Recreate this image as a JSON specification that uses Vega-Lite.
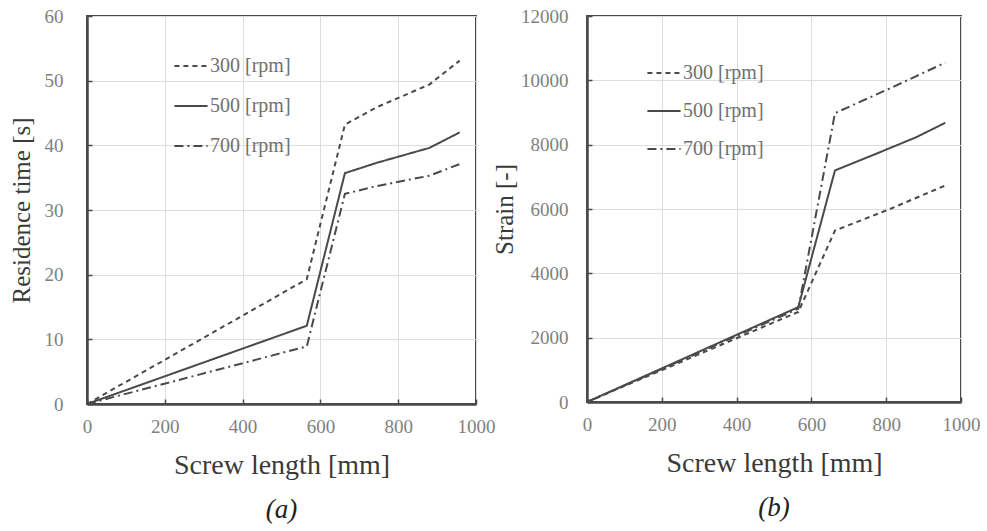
{
  "$schema": "https://vega.github.io/schema/vega-lite/v6.json",
  "background": "white",
  "padding": {"left": 8, "top": 6, "right": 5, "bottom": 2},
  "spacing": -5,
  "config": {
    "font": "Liberation Serif",
    "view": {"stroke": "#4a4a4a", "strokeWidth": 2},
    "axis": {
      "labelFont": "Liberation Serif",
      "labelFontSize": 19,
      "labelColor": "#808080",
      "labelFlush": false,
      "titleFont": "Liberation Serif",
      "titleFontSize": 25,
      "titleFontWeight": "normal",
      "titleColor": "#3a3a3a",
      "gridColor": "#dddddd",
      "gridWidth": 1,
      "domainColor": "#4a4a4a",
      "domainWidth": 2.5,
      "tickColor": "#4a4a4a",
      "tickSize": -5,
      "tickWidth": 1.5,
      "format": "d"
    },
    "axisX": {"titleFontSize": 28},
    "legend": {
      "labelFont": "Liberation Serif",
      "labelFontSize": 20,
      "labelColor": "#707070",
      "symbolType": "stroke",
      "symbolSize": 1100,
      "symbolStrokeWidth": 2,
      "symbolStrokeColor": "#4a4a4a",
      "rowPadding": 12,
      "labelOffset": 1
    },
    "title": {"font": "Liberation Serif", "fontSize": 27, "fontWeight": "normal", "fontStyle": "italic", "color": "#222222"}
  },
  "datasets": {
    "a": [
      {"x": 0, "y": 0, "s": "300 [rpm]"},
      {"x": 565, "y": 19.3, "s": "300 [rpm]"},
      {"x": 663, "y": 43.2, "s": "300 [rpm]"},
      {"x": 745, "y": 45.9, "s": "300 [rpm]"},
      {"x": 880, "y": 49.4, "s": "300 [rpm]"},
      {"x": 958, "y": 53.1, "s": "300 [rpm]"},
      {"x": 0, "y": 0, "s": "500 [rpm]"},
      {"x": 565, "y": 12.1, "s": "500 [rpm]"},
      {"x": 663, "y": 35.7, "s": "500 [rpm]"},
      {"x": 745, "y": 37.3, "s": "500 [rpm]"},
      {"x": 880, "y": 39.6, "s": "500 [rpm]"},
      {"x": 958, "y": 42.0, "s": "500 [rpm]"},
      {"x": 0, "y": 0, "s": "700 [rpm]"},
      {"x": 565, "y": 8.9, "s": "700 [rpm]"},
      {"x": 663, "y": 32.5, "s": "700 [rpm]"},
      {"x": 745, "y": 33.7, "s": "700 [rpm]"},
      {"x": 880, "y": 35.3, "s": "700 [rpm]"},
      {"x": 958, "y": 37.1, "s": "700 [rpm]"}
    ],
    "b": [
      {"x": 0, "y": 0, "s": "300 [rpm]"},
      {"x": 565, "y": 2800, "s": "300 [rpm]"},
      {"x": 663, "y": 5330, "s": "300 [rpm]"},
      {"x": 810, "y": 6000, "s": "300 [rpm]"},
      {"x": 958, "y": 6730, "s": "300 [rpm]"},
      {"x": 0, "y": 0, "s": "500 [rpm]"},
      {"x": 565, "y": 2950, "s": "500 [rpm]"},
      {"x": 663, "y": 7200, "s": "500 [rpm]"},
      {"x": 780, "y": 7750, "s": "500 [rpm]"},
      {"x": 880, "y": 8230, "s": "500 [rpm]"},
      {"x": 958, "y": 8680, "s": "500 [rpm]"},
      {"x": 0, "y": 0, "s": "700 [rpm]"},
      {"x": 565, "y": 2900, "s": "700 [rpm]"},
      {"x": 663, "y": 8980, "s": "700 [rpm]"},
      {"x": 810, "y": 9750, "s": "700 [rpm]"},
      {"x": 958, "y": 10550, "s": "700 [rpm]"}
    ]
  },
  "hconcat": [
    {
      "width": 389,
      "height": 388,
      "data": {"name": "a"},
      "title": {"text": "(a)", "orient": "bottom", "offset": 18},
      "mark": {"type": "line", "strokeWidth": 2, "color": "#4a4a4a"},
      "encoding": {
        "x": {"field": "x", "type": "quantitative", "scale": {"domain": [0, 1000], "nice": false}, "axis": {"values": [0, 200, 400, 600, 800, 1000], "title": "Screw length [mm]", "labelPadding": 18, "titlePadding": 15}},
        "y": {"field": "y", "type": "quantitative", "scale": {"domain": [0, 60], "nice": false}, "axis": {"values": [0, 10, 20, 30, 40, 50, 60], "title": "Residence time [s]", "labelPadding": 29, "titlePadding": 10}},
        "strokeDash": {"field": "s", "type": "nominal", "scale": {"domain": ["300 [rpm]", "500 [rpm]", "700 [rpm]"], "range": [[5, 4], [1, 0], [9, 4, 2, 4]]}, "legend": {"title": null, "orient": "none", "legendX": 86, "legendY": 32}}
      }
    },
    {
      "width": 374,
      "height": 386,
      "data": {"name": "b"},
      "title": {"text": "(b)", "orient": "bottom", "offset": 18},
      "mark": {"type": "line", "strokeWidth": 2, "color": "#4a4a4a"},
      "encoding": {
        "x": {"field": "x", "type": "quantitative", "scale": {"domain": [0, 1000], "nice": false}, "axis": {"values": [0, 200, 400, 600, 800, 1000], "title": "Screw length [mm]", "labelPadding": 18, "titlePadding": 15}},
        "y": {"field": "y", "type": "quantitative", "scale": {"domain": [0, 12000], "nice": false}, "axis": {"values": [0, 2000, 4000, 6000, 8000, 10000, 12000], "title": "Strain [-]", "labelPadding": 24, "titlePadding": 3}},
        "strokeDash": {"field": "s", "type": "nominal", "scale": {"domain": ["300 [rpm]", "500 [rpm]", "700 [rpm]"], "range": [[5, 4], [1, 0], [9, 4, 2, 4]]}, "legend": {"title": null, "orient": "none", "legendX": 59, "legendY": 39, "rowPadding": 10}}
      }
    }
  ],
  "resolve": {"scale": {"strokeDash": "independent"}, "legend": {"strokeDash": "independent"}}
}
